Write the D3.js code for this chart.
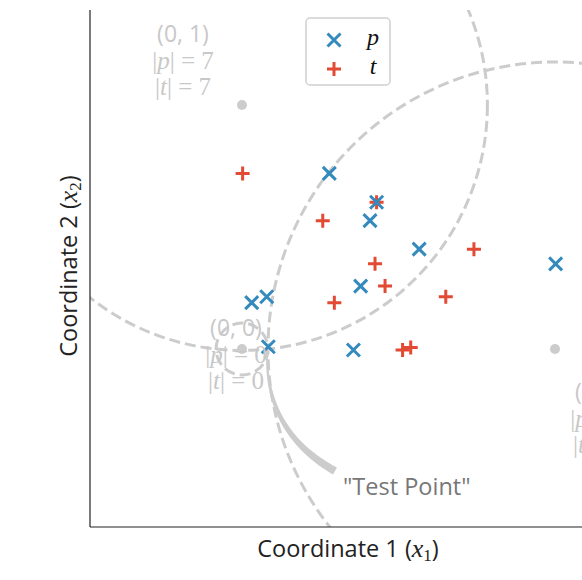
<!DOCTYPE html>
<html>
<head>
<meta charset="utf-8">
<script src="https://cdn.jsdelivr.net/npm/d3@7"></script>
<style>
  html, body { margin: 0; padding: 0; background: #fff; }
  svg { display: block; }
</style>
</head>
<body>
<svg id="chart" width="582" height="580"></svg>
<script>
// Reference (prototype) points and their counts
const anchorNames = ["(0, 0)", "(0, 1)", "(1, 0)"];
const anchorX = [0, 0, 1];
const anchorY = [0, 0.7796, 0];
const anchorP = [0, 7, 3];
const anchorT = [0, 7, 3];

// Samples of class p
const pX = [0.279, 0.430, 0.409, 0.566, 1.002, 0.379, 0.031, 0.079, 0.084, 0.356];
const pY = [0.561, 0.469, 0.410, 0.319, 0.272, 0.201, 0.148, 0.167, 0.007, -0.003];

// Samples of class t
const tX = [0.002, 0.258, 0.430, 0.425, 0.741, 0.457, 0.295, 0.651, 0.513, 0.539];
const tY = [0.561, 0.410, 0.469, 0.272, 0.319, 0.201, 0.148, 0.167, -0.003, 0.005];

// The query point
const testPoint = [0.083, 0];

const BLUE = "#348ABD", RED = "#E24A33", GREY = "#cccccc";

const svg = d3.select("#chart");
const plotLeft = 90, plotRight = 605, plotTop = 10, plotBottom = 527;

// equal aspect: same pixels per unit on both axes
const x = d3.scaleLinear().domain([-0.4856, 1.1597]).range([plotLeft, plotRight]);
const y = d3.scaleLinear().domain([-0.5687, 1.0831]).range([plotBottom, plotTop]);

svg.append("defs").append("clipPath").attr("id", "plotclip")
  .append("rect").attr("x", plotLeft).attr("y", plotTop)
  .attr("width", plotRight - plotLeft).attr("height", plotBottom - plotTop);

const plot = svg.append("g").attr("clip-path", "url(#plotclip)");

// dashed circles from each reference point through the query point
const anchors = anchorX.map((ax, i) => ({
  name: anchorNames[i], x: ax, y: anchorY[i], p: anchorP[i], t: anchorT[i]
}));
anchors.forEach(a => {
  const r = Math.hypot(testPoint[0] - a.x, testPoint[1] - a.y);
  plot.append("circle")
    .attr("cx", x(a.x)).attr("cy", y(a.y))
    .attr("r", x(r) - x(0))
    .attr("fill", "none")
    .attr("stroke", GREY)
    .attr("stroke-width", 3)
    .attr("stroke-dasharray", "11,5");
});

// reference point dots
plot.selectAll(".anchor").data(anchors).join("circle")
  .attr("class", "anchor")
  .attr("cx", d => x(d.x)).attr("cy", d => y(d.y))
  .attr("r", 5).attr("fill", GREY);

// labels beside reference points: offsets of the block centre (dx) and first line (dy)
const labelOffset = [[-6, -21], [-59, -71], [46, 43]];
anchors.forEach((a, i) => {
  const cx = x(a.x) + labelOffset[i][0];
  const cy = y(a.y) + labelOffset[i][1];
  const g = svg.append("g").attr("fill", "#c8c8c8");
  g.append("text")
    .attr("x", cx).attr("y", cy + 8)
    .attr("text-anchor", "middle")
    .attr("font-family", "Open Sans")
    .attr("font-size", 23)
    .text(a.name);
  [["p", a.p], ["t", a.t]].forEach(([v, n], k) => {
    const tx = g.append("text")
      .attr("x", cx).attr("y", cy + 35 + 26 * k)
      .attr("text-anchor", "middle")
      .attr("font-family", "Liberation Serif")
      .attr("font-size", 25);
    tx.append("tspan").text("|");
    tx.append("tspan").attr("font-style", "italic").text(v);
    tx.append("tspan").text("| = " + n);
  });
});

// markers
const xPath = s => `M${-s},${-s}L${s},${s}M${-s},${s}L${s},${-s}`;
const plusPath = s => `M${-s},0L${s},0M0,${-s}L0,${s}`;

plot.selectAll(".t").data(tX.map((v, i) => [v, tY[i]])).join("path")
  .attr("class", "t")
  .attr("transform", d => `translate(${x(d[0])},${y(d[1])})`)
  .attr("d", plusPath(7))
  .attr("stroke", RED).attr("stroke-width", 3).attr("fill", "none");

plot.selectAll(".p").data(pX.map((v, i) => [v, pY[i]])).join("path")
  .attr("class", "p")
  .attr("transform", d => `translate(${x(d[0])},${y(d[1])})`)
  .attr("d", xPath(6.5))
  .attr("stroke", BLUE).attr("stroke-width", 3).attr("fill", "none");

// annotation: tapered curved arrow from the label to the query point
const textX = 343, textY = 495;
const tail = [textX - 8, textY - 24];
const tip = [x(testPoint[0]) - 1, y(testPoint[1]) + 4];
const rad = 0.3;
const mid = [(tail[0] + tip[0]) / 2, (tail[1] + tip[1]) / 2];
const ddx = tip[0] - tail[0], ddy = tip[1] - tail[1];
const ctrl = [mid[0] + rad * ddy, mid[1] - rad * ddx];
const N = 40, wTail = 8, wTip = 1.5;
const leftSide = [], rightSide = [];
for (let i = 0; i <= N; i++) {
  const s = i / N, u = 1 - s;
  const px = u * u * tail[0] + 2 * u * s * ctrl[0] + s * s * tip[0];
  const py = u * u * tail[1] + 2 * u * s * ctrl[1] + s * s * tip[1];
  const tx = 2 * u * (ctrl[0] - tail[0]) + 2 * s * (tip[0] - ctrl[0]);
  const ty = 2 * u * (ctrl[1] - tail[1]) + 2 * s * (tip[1] - ctrl[1]);
  const len = Math.hypot(tx, ty);
  const nx = -ty / len, ny = tx / len;
  const w = (wTail + (wTip - wTail) * s) / 2;
  leftSide.push([px + nx * w, py + ny * w]);
  rightSide.push([px - nx * w, py - ny * w]);
}
svg.append("path")
  .attr("d", d3.line()(leftSide.concat(rightSide.reverse())) + "Z")
  .attr("fill", GREY);

svg.append("text")
  .attr("x", textX).attr("y", textY)
  .attr("font-family", "Open Sans").attr("font-size", 23.5)
  .attr("fill", "#777777")
  .text("\"Test Point\"");

// spines
svg.append("line").attr("x1", plotLeft).attr("x2", plotLeft).attr("y1", plotTop).attr("y2", plotBottom)
  .attr("stroke", "#222").attr("stroke-width", 1.2);
svg.append("line").attr("x1", plotLeft).attr("x2", plotRight).attr("y1", plotBottom).attr("y2", plotBottom)
  .attr("stroke", "#222").attr("stroke-width", 1.2);

// axis titles
const xt = svg.append("text")
  .attr("x", 348).attr("y", 557)
  .attr("text-anchor", "middle")
  .attr("font-family", "Open Sans").attr("font-size", 23.5).attr("fill", "#222");
xt.append("tspan").text("Coordinate 1 (");
xt.append("tspan").attr("font-family", "Liberation Serif").attr("font-style", "italic").attr("font-size", 26).text("x");
xt.append("tspan").attr("font-family", "Liberation Serif").attr("font-size", 17).attr("dy", 4).text("1");
xt.append("tspan").attr("dy", -4).text(")");

const yt = svg.append("text")
  .attr("transform", "translate(77,266) rotate(-90)")
  .attr("text-anchor", "middle")
  .attr("font-family", "Open Sans").attr("font-size", 23.5).attr("fill", "#222");
yt.append("tspan").text("Coordinate 2 (");
yt.append("tspan").attr("font-family", "Liberation Serif").attr("font-style", "italic").attr("font-size", 26).text("x");
yt.append("tspan").attr("font-family", "Liberation Serif").attr("font-size", 17).attr("dy", 4).text("2");
yt.append("tspan").attr("dy", -4).text(")");

// legend
const lg = svg.append("g");
lg.append("rect").attr("x", 306).attr("y", 18).attr("width", 84).attr("height", 67)
  .attr("rx", 4).attr("fill", "#fff").attr("stroke", "#d0d0d0").attr("stroke-width", 1.5);
const legendItems = [["p", BLUE, xPath(6.5)], ["t", RED, plusPath(7)]];
legendItems.forEach(([name, col, d], i) => {
  const yy = 40 + 29 * i;
  lg.append("path").attr("transform", `translate(334,${yy})`).attr("d", d)
    .attr("stroke", col).attr("stroke-width", 3).attr("fill", "none");
  lg.append("text").attr("x", 373).attr("y", yy + 5)
    .attr("text-anchor", "middle")
    .attr("font-family", "Liberation Serif").attr("font-style", "italic").attr("font-size", 24)
    .attr("fill", "#111").text(name);
});
</script>
</body>
</html>
